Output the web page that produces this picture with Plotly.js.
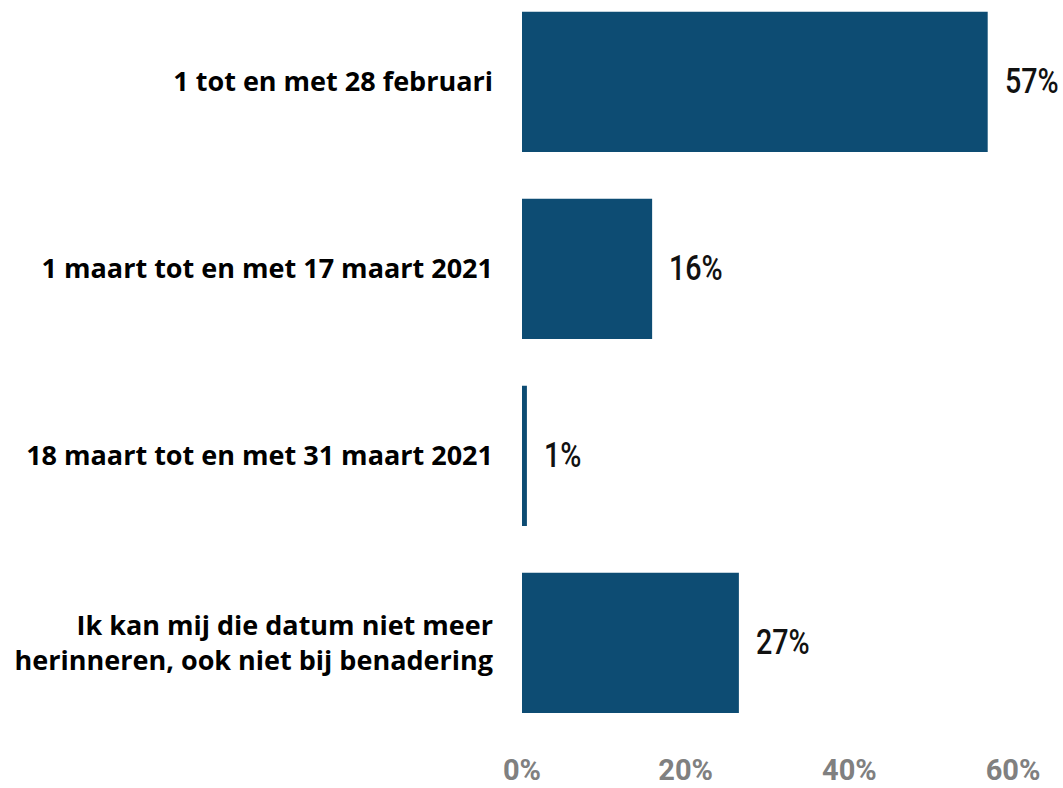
<!DOCTYPE html>
<html>
<head>
<meta charset="utf-8">
<script src="https://cdn.plot.ly/plotly-3.0.1.min.js"></script>
<style>
html,body{margin:0;padding:0;background:#fff;}
#chart{width:1063px;height:788px;}
#chart .annotation-text{transform-box:fill-box;transform-origin:0% 50%;transform:scaleX(0.82);}
</style>
</head>
<body>
<div id="chart"></div>
<script>
const categories = [
  "1 tot en met 28 februari",
  "1 maart tot en met 17 maart 2021",
  "18 maart tot en met 31 maart 2021",
  "Ik kan mij die datum niet meer<br>herinneren, ook niet bij benadering"
];
const values = [56.9, 15.9, 0.6, 26.5];
const valueLabels = ["57%", "16%", "1%", "27%"];
const tickVals = [0, 20, 40, 60];
const tickText = ["0%", "20%", "40%", "60%"];

const trace = {
  type: "bar",
  orientation: "h",
  x: values,
  y: categories,
  marker: {color: "#0d4c73"},
  hoverinfo: "none"
};

const annotations = values.map((v, i) => ({
  x: v, y: categories[i], xref: "x", yref: "y",
  text: valueLabels[i], showarrow: false,
  xanchor: "left", yanchor: "middle", xshift: 15,
  font: {family: "Roboto, sans-serif", size: 35, color: "#111111", weight: 500}
}));

const layout = {
  width: 1063, height: 788,
  margin: {l: 522, r: 0, t: 0, b: 48},
  paper_bgcolor: "#ffffff", plot_bgcolor: "#ffffff",
  showlegend: false,
  bargap: 0.25,
  xaxis: {
    range: [0, 66.1],
    tickvals: tickVals, ticktext: tickText,
    showgrid: false, zeroline: false, showline: false,
    ticks: "", ticklabelstandoff: 10,
    tickfont: {family: "Roboto, sans-serif", size: 29, color: "#808080", weight: 700}
  },
  yaxis: {
    type: "category",
    categoryorder: "array", categoryarray: categories,
    range: [3.519, -0.4385],
    showgrid: false, zeroline: false, showline: false,
    ticks: "", ticklabelstandoff: 28,
    tickfont: {family: "'Open Sans', Roboto, sans-serif", size: 27, color: "#000000", weight: 700}
  },
  annotations: annotations
};

Plotly.newPlot("chart", [trace], layout, {displayModeBar: false, staticPlot: true});
</script>
</body>
</html>
